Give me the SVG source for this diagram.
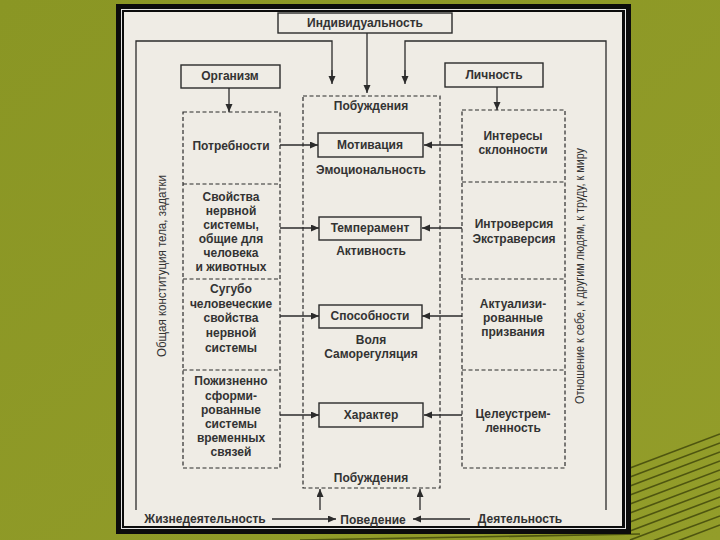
<svg xmlns="http://www.w3.org/2000/svg" width="720" height="540" viewBox="0 0 720 540">
<defs>
  <linearGradient id="bg" x1="0" y1="0" x2="1" y2="1">
    <stop offset="0" stop-color="#8a9624"/>
    <stop offset="1" stop-color="#939d2a"/>
  </linearGradient>
  <marker id="ah" markerUnits="userSpaceOnUse" markerWidth="9" markerHeight="8" refX="8" refY="3.5" orient="auto">
    <path d="M0,0 L8,3.5 L0,7 z" fill="#2b2b2b"/>
  </marker>
  <style>
    .t{font-family:"Liberation Sans",Arial,sans-serif;font-size:12px;font-weight:bold;fill:#333;text-anchor:middle}
    .v{font-family:"Liberation Sans",Arial,sans-serif;font-size:12px;fill:#333;text-anchor:middle}
    .box{fill:none;stroke:#2b2b2b;stroke-width:1.4}
    .dash{fill:none;stroke:#2b2b2b;stroke-width:1.2;stroke-dasharray:4 2.5}
    .ln{fill:none;stroke:#2b2b2b;stroke-width:1.3}
    .arr{fill:none;stroke:#2b2b2b;stroke-width:1.3;marker-end:url(#ah)}
    .stripe{stroke:#3e440a;stroke-width:1.6;opacity:0.8}
  </style>
</defs>
<rect x="0" y="0" width="720" height="540" fill="url(#bg)"/>
<g id="stripes">
  <line class="stripe" x1="630" y1="468" x2="720" y2="434"/>
  <line class="stripe" x1="630" y1="477" x2="720" y2="443"/>
  <line class="stripe" x1="630" y1="486" x2="720" y2="452"/>
  <line class="stripe" x1="630" y1="495" x2="720" y2="461"/>
  <line class="stripe" x1="630" y1="504" x2="720" y2="470"/>
  <line class="stripe" x1="630" y1="513" x2="720" y2="479"/>
  <line class="stripe" x1="630" y1="522" x2="720" y2="488"/>
  <line class="stripe" x1="630" y1="531" x2="720" y2="497"/>
  <line class="stripe" x1="630" y1="540" x2="720" y2="506"/>
  <line class="stripe" x1="650" y1="542" x2="720" y2="516"/>
  <line class="stripe" x1="675" y1="542" x2="720" y2="525"/>
  <line class="stripe" x1="300" y1="540" x2="640" y2="534"/>
</g>
<g id="frame">
  <rect x="116" y="4" width="515" height="530" fill="#0c0c0c"/>
  <rect x="121.5" y="9.5" width="504" height="519" fill="none" stroke="#e6e6e6" stroke-width="1"/>
  <rect x="124" y="12" width="498" height="514" fill="#efece5"/>
</g>
<g id="connectors">
  <polyline class="ln" points="136,510 136,41 332,41 332,76"/>
  <line class="arr" x1="332" y1="70" x2="332" y2="84"/>
  <polyline class="ln" points="606,510 606,41 405,41 405,76"/>
  <line class="arr" x1="405" y1="70" x2="405" y2="84"/>
  <line class="arr" x1="367" y1="33" x2="367" y2="93"/>
  <line class="arr" x1="229" y1="88" x2="229" y2="112"/>
  <line class="arr" x1="497" y1="87" x2="497" y2="110"/>
  <line class="arr" x1="280" y1="145" x2="318" y2="145"/>
  <line class="arr" x1="462" y1="145" x2="424" y2="145"/>
  <line class="arr" x1="280" y1="228" x2="319" y2="228"/>
  <line class="arr" x1="462" y1="228" x2="422" y2="228"/>
  <line class="arr" x1="280" y1="316" x2="319" y2="316"/>
  <line class="arr" x1="462" y1="316" x2="422" y2="316"/>
  <line class="arr" x1="280" y1="415" x2="319" y2="415"/>
  <line class="arr" x1="462" y1="415" x2="424" y2="415"/>
  <line class="arr" x1="320" y1="510" x2="320" y2="489"/>
  <line class="arr" x1="420" y1="510" x2="420" y2="489"/>
  <line class="arr" x1="272" y1="519" x2="336" y2="519"/>
  <line class="arr" x1="470" y1="519" x2="413" y2="519"/>
</g>
<g id="individualnost">
  <rect class="box" x="278" y="13" width="174" height="20" fill="#efece5"/>
  <text class="t" x="365" y="27">Индивидуальность</text>
</g>
<g id="organizm">
  <rect class="box" x="181" y="65" width="99" height="23"/>
  <text class="t" x="230" y="80">Организм</text>
</g>
<g id="lichnost">
  <rect class="box" x="445" y="63" width="98" height="24"/>
  <text class="t" x="494" y="79">Личность</text>
</g>
<g id="left-column">
  <rect class="dash" x="183" y="112" width="97" height="356"/>
  <line class="dash" x1="183" y1="184" x2="280" y2="184"/>
  <line class="dash" x1="183" y1="279" x2="280" y2="279"/>
  <line class="dash" x1="183" y1="370" x2="280" y2="370"/>
  <text class="t" x="231" y="150">Потребности</text>
  <text class="t" x="231" y="201">Свойства</text>
  <text class="t" x="231" y="215">нервной</text>
  <text class="t" x="231" y="229">системы,</text>
  <text class="t" x="231" y="243">общие для</text>
  <text class="t" x="231" y="257">человека</text>
  <text class="t" x="231" y="271">и животных</text>
  <text class="t" x="231" y="293">Сугубо</text>
  <text class="t" x="231" y="308">человеческие</text>
  <text class="t" x="231" y="322">свойства</text>
  <text class="t" x="231" y="337">нервной</text>
  <text class="t" x="231" y="352">системы</text>
  <text class="t" x="231" y="385">Пожизненно</text>
  <text class="t" x="231" y="400">сформи-</text>
  <text class="t" x="231" y="414">рованные</text>
  <text class="t" x="231" y="428">системы</text>
  <text class="t" x="231" y="442">временных</text>
  <text class="t" x="231" y="456">связей</text>
</g>
<g id="center-column">
  <rect class="dash" x="303" y="96" width="137" height="392"/>
  <text class="t" x="371" y="110">Побуждения</text>
  <text class="t" x="371" y="174">Эмоциональность</text>
  <text class="t" x="371" y="255">Активность</text>
  <text class="t" x="371" y="344">Воля</text>
  <text class="t" x="371" y="358">Саморегуляция</text>
  <text class="t" x="371" y="482">Побуждения</text>
</g>
<g id="motivaciya">
  <rect class="box" x="318" y="133" width="105" height="24"/>
  <text class="t" x="370" y="149">Мотивация</text>
</g>
<g id="temperament">
  <rect class="box" x="319" y="217" width="102" height="23"/>
  <text class="t" x="370" y="232">Темперамент</text>
</g>
<g id="sposobnosti">
  <rect class="box" x="319" y="305" width="103" height="23"/>
  <text class="t" x="370" y="320">Способности</text>
</g>
<g id="harakter">
  <rect class="box" x="319" y="403" width="104" height="24"/>
  <text class="t" x="371" y="419">Характер</text>
</g>
<g id="right-column">
  <rect class="dash" x="462" y="110" width="103" height="358"/>
  <line class="dash" x1="462" y1="182" x2="565" y2="182"/>
  <line class="dash" x1="462" y1="279" x2="565" y2="279"/>
  <line class="dash" x1="462" y1="370" x2="565" y2="370"/>
  <text class="t" x="513" y="140">Интересы</text>
  <text class="t" x="513" y="154">склонности</text>
  <text class="t" x="514" y="228">Интроверсия</text>
  <text class="t" x="514" y="243">Экстраверсия</text>
  <text class="t" x="513" y="308">Актуализи-</text>
  <text class="t" x="513" y="322">рованные</text>
  <text class="t" x="513" y="336">призвания</text>
  <text class="t" x="513" y="418">Целеустрем-</text>
  <text class="t" x="513" y="432">ленность</text>
</g>
<g id="side-labels">
  <text class="v" transform="translate(166,266) rotate(-90)" textLength="182" lengthAdjust="spacingAndGlyphs">Общая конституция тела, задатки</text>
  <text class="v" transform="translate(584,276) rotate(-90)" textLength="256" lengthAdjust="spacingAndGlyphs">Отношение к себе, к другим людям, к труду, к миру</text>
</g>
<g id="bottom-row">
  <text class="t" x="205" y="523">Жизнедеятельность</text>
  <text class="t" x="373" y="524">Поведение</text>
  <text class="t" x="520" y="523">Деятельность</text>
</g>
</svg>
